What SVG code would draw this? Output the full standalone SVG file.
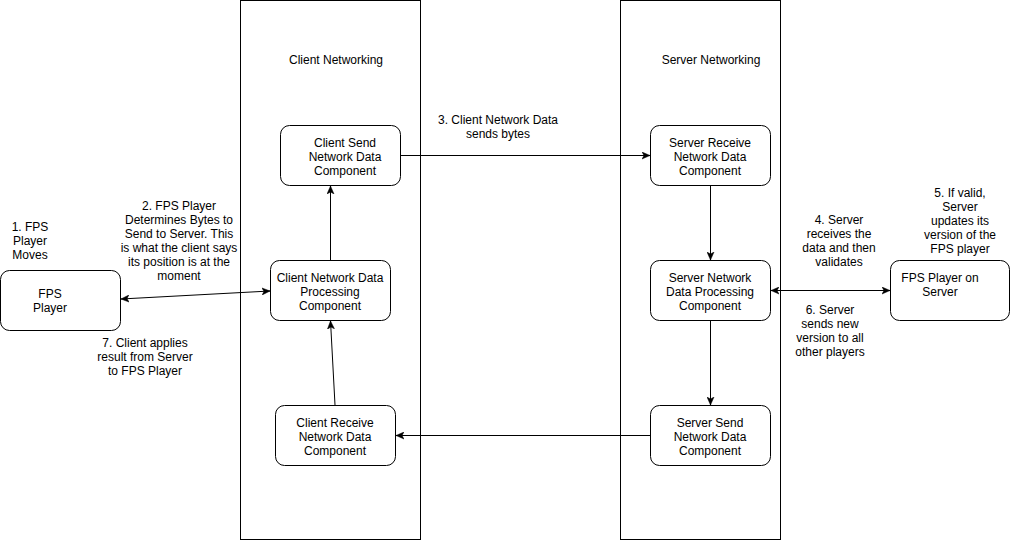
<svg xmlns="http://www.w3.org/2000/svg" width="1011" height="541" viewBox="0 0 1011 541">
<style>
  text { font-family: "Liberation Sans", Arial, sans-serif; font-size: 12px; fill: #000; text-anchor: middle; }
  .box { fill: #fff; stroke: #000; stroke-width: 1; }
  .node { fill: #fff; stroke: #000; stroke-width: 1; }
  .edge { fill: none; stroke: #000; stroke-width: 1; }
</style>
<defs>
  <marker id="arrow" viewBox="0 0 8 8" refX="8" refY="4" markerWidth="8" markerHeight="8" markerUnits="userSpaceOnUse" orient="auto-start-reverse">
    <path d="M0,0.5 L8,4 L0,7.5 L2,4 z" fill="#000" stroke="#000" stroke-width="0.5"/>
  </marker>
</defs>
<rect width="1011" height="541" fill="#fff"/>

<g id="client-networking">
  <rect class="box" x="240.5" y="0.5" width="180" height="539"/>
  <text x="336" y="64">Client Networking</text>
</g>
<g id="server-networking">
  <rect class="box" x="620.5" y="0.5" width="160" height="539"/>
  <text x="711" y="64">Server Networking</text>
</g>

<g id="connectors">
  <line class="edge" x1="121" y1="299" x2="270" y2="291" marker-start="url(#arrow)" marker-end="url(#arrow)"/>
  <line class="edge" x1="330.5" y1="260" x2="330.5" y2="186" marker-end="url(#arrow)"/>
  <line class="edge" x1="335" y1="405" x2="330.5" y2="321" marker-end="url(#arrow)"/>
  <line class="edge" x1="400.5" y1="155.5" x2="650" y2="155.5" marker-end="url(#arrow)"/>
  <line class="edge" x1="710.5" y1="185.5" x2="710.5" y2="260" marker-end="url(#arrow)"/>
  <line class="edge" x1="771" y1="290.5" x2="890" y2="290.5" marker-start="url(#arrow)" marker-end="url(#arrow)"/>
  <line class="edge" x1="710.5" y1="320.5" x2="710.5" y2="405" marker-end="url(#arrow)"/>
  <line class="edge" x1="650" y1="435.5" x2="396" y2="435.5" marker-end="url(#arrow)"/>
</g>

<g id="fps-player">
  <rect class="node" x="0.5" y="270.5" width="120" height="60" rx="9"/>
  <text x="50" y="297.5">FPS</text>
  <text x="50" y="311.5">Player</text>
</g>
<g id="client-send">
  <rect class="node" x="280.5" y="125.5" width="120" height="60" rx="9"/>
  <text x="345" y="146.5">Client Send</text>
  <text x="345" y="160.5">Network Data</text>
  <text x="345" y="174.5">Component</text>
</g>
<g id="client-processing">
  <rect class="node" x="270.5" y="260.5" width="120" height="60" rx="9"/>
  <text x="330" y="281.5">Client Network Data</text>
  <text x="330" y="295.5">Processing</text>
  <text x="330" y="309.5">Component</text>
</g>
<g id="client-receive">
  <rect class="node" x="275.5" y="405.5" width="120" height="60" rx="9"/>
  <text x="335" y="426.5">Client Receive</text>
  <text x="335" y="440.5">Network Data</text>
  <text x="335" y="454.5">Component</text>
</g>
<g id="server-receive">
  <rect class="node" x="650.5" y="125.5" width="120" height="60" rx="9"/>
  <text x="710" y="146.5">Server Receive</text>
  <text x="710" y="160.5">Network Data</text>
  <text x="710" y="174.5">Component</text>
</g>
<g id="server-processing">
  <rect class="node" x="650.5" y="260.5" width="120" height="60" rx="9"/>
  <text x="710" y="281.5">Server Network</text>
  <text x="710" y="295.5">Data Processing</text>
  <text x="710" y="309.5">Component</text>
</g>
<g id="server-send">
  <rect class="node" x="650.5" y="405.5" width="120" height="60" rx="9"/>
  <text x="710" y="426.5">Server Send</text>
  <text x="710" y="440.5">Network Data</text>
  <text x="710" y="454.5">Component</text>
</g>
<g id="fps-player-server">
  <rect class="node" x="890.5" y="260.5" width="119" height="60" rx="9"/>
  <text x="940" y="281.5">FPS Player on</text>
  <text x="940" y="295.5">Server</text>
</g>

<g id="labels">
  <text x="30" y="231">1. FPS</text>
  <text x="30" y="245">Player</text>
  <text x="30" y="259">Moves</text>

  <text x="179" y="210">2. FPS Player</text>
  <text x="179" y="224">Determines Bytes to</text>
  <text x="179" y="238">Send to Server. This</text>
  <text x="179" y="252">is what the client says</text>
  <text x="179" y="266">its position is at the</text>
  <text x="179" y="280">moment</text>

  <text x="498" y="123.5">3. Client Network Data</text>
  <text x="498" y="137.5">sends bytes</text>

  <text x="839" y="224">4. Server</text>
  <text x="839" y="238">receives the</text>
  <text x="839" y="252">data and then</text>
  <text x="839" y="266">validates</text>

  <text x="960" y="197">5. If valid,</text>
  <text x="960" y="211">Server</text>
  <text x="960" y="225">updates its</text>
  <text x="960" y="239">version of the</text>
  <text x="960" y="253">FPS player</text>

  <text x="830" y="314">6. Server</text>
  <text x="830" y="328">sends new</text>
  <text x="830" y="342">version to all</text>
  <text x="830" y="356">other players</text>

  <text x="145" y="347">7. Client applies</text>
  <text x="145" y="361">result from Server</text>
  <text x="145" y="375">to FPS Player</text>
</g>
</svg>
